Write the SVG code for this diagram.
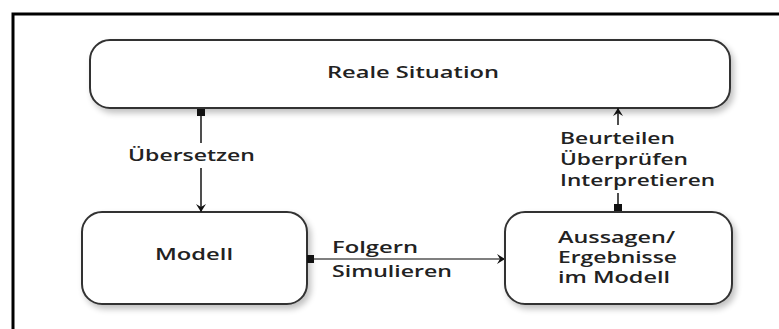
<svg xmlns="http://www.w3.org/2000/svg" width="779" height="329" viewBox="0 0 779 329">
  <defs>
    <filter id="sh" x="-10%" y="-20%" width="125%" height="150%">
      <feGaussianBlur in="SourceAlpha" stdDeviation="3"/>
      <feOffset dx="3" dy="4" result="b"/>
      <feComponentTransfer><feFuncA type="linear" slope="0.25"/></feComponentTransfer>
      <feMerge><feMergeNode/><feMergeNode in="SourceGraphic"/></feMerge>
    </filter>
    <marker id="sq" markerWidth="10" markerHeight="10" refX="0" refY="4" orient="auto" markerUnits="userSpaceOnUse">
      <rect x="0" y="0" width="7" height="8" fill="#111"/>
    </marker>
    <marker id="arr" markerWidth="12" markerHeight="12" refX="8" refY="5" orient="auto" markerUnits="userSpaceOnUse">
      <path d="M0,0 L8,5 L0,10 L3,5 Z" fill="#111"/>
    </marker>
  </defs>
  <style>
    .box { fill: #ffffff; stroke: #333; stroke-width: 2; }
    .t { font-family: "Open Sans", "DejaVu Sans", sans-serif; font-weight: 600; font-size: 15.5px; fill: #222; }
    .c { fill: none; stroke: #222; stroke-width: 1.6; }
    .h { fill: none; stroke: #555; stroke-width: 1.3; }
  </style>
  <rect width="779" height="329" fill="#ffffff"/>
  <path d="M13,329 V14 H779" fill="none" stroke="#000" stroke-width="3"/>

  <g id="reale-situation">
    <rect class="box" x="90" y="40" width="640" height="68" rx="20" filter="url(#sh)"/>
    <text class="t" x="413" y="78" text-anchor="middle" textLength="172" lengthAdjust="spacingAndGlyphs" style="font-size:16.5px">Reale Situation</text>
  </g>
  <g id="modell">
    <rect class="box" x="82" y="212" width="225" height="92" rx="20" filter="url(#sh)"/>
    <text class="t" x="194" y="260" text-anchor="middle" textLength="78" lengthAdjust="spacingAndGlyphs">Modell</text>
  </g>
  <g id="aussagen">
    <rect class="box" x="505" y="212" width="227" height="92" rx="20" filter="url(#sh)"/>
    <text class="t" x="558" y="243" textLength="117" lengthAdjust="spacingAndGlyphs">Aussagen/</text>
    <text class="t" x="558" y="263" textLength="119" lengthAdjust="spacingAndGlyphs">Ergebnisse</text>
    <text class="t" x="558" y="283" textLength="112" lengthAdjust="spacingAndGlyphs">im Modell</text>
  </g>

  <g id="connectors">
    <path class="c" d="M201,109 V143" marker-start="url(#sq)"/>
    <path class="c" d="M201,168 V212" marker-end="url(#arr)"/>
    <path class="c" d="M618,211 V193" marker-start="url(#sq)"/>
    <path class="c" d="M618,125 V108" marker-end="url(#arr)"/>
    <path class="h" d="M307,259 H505" marker-start="url(#sq)" marker-end="url(#arr)"/>
    <text class="t" x="128" y="161" textLength="127" lengthAdjust="spacingAndGlyphs">Übersetzen</text>
    <text class="t" x="560" y="144" textLength="115" lengthAdjust="spacingAndGlyphs">Beurteilen</text>
    <text class="t" x="560" y="165" textLength="128" lengthAdjust="spacingAndGlyphs">Überprüfen</text>
    <text class="t" x="560" y="186" textLength="155" lengthAdjust="spacingAndGlyphs">Interpretieren</text>
    <text class="t" x="332" y="253" textLength="86" lengthAdjust="spacingAndGlyphs">Folgern</text>
    <text class="t" x="332" y="277" textLength="120" lengthAdjust="spacingAndGlyphs">Simulieren</text>
  </g>
</svg>
